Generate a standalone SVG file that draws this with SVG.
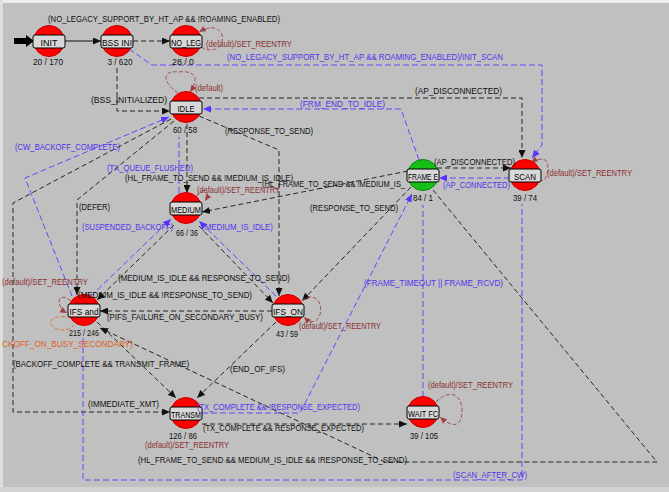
<svg xmlns="http://www.w3.org/2000/svg" width="669" height="492" viewBox="0 0 669 492">
<style>
text{font-family:"Liberation Sans",Arial,sans-serif;font-size:9.5px}
.k{fill:none;stroke:#262626;stroke-width:1;stroke-dasharray:5 3}
.ks{fill:none;stroke:#111;stroke-width:1}
.b{fill:none;stroke:#6a44ff;stroke-width:1;stroke-dasharray:6 3}
.m{fill:none;stroke:#a05050;stroke-width:1;stroke-dasharray:4 2}
.o{fill:none;stroke:#e07040;stroke-width:1;stroke-dasharray:4 2}
.tk{fill:#111}
.tb{fill:#5533ee}
.tm{fill:#8b3030}
.to{fill:#e06020}
.cnt{fill:#111;text-anchor:middle}
.red{fill:#ff0000;stroke:#c80000;stroke-width:1}
.grn{fill:#16c016;stroke:#0a8a0a;stroke-width:1}
.box{fill:#d8d8d8;stroke:#000;stroke-width:1}
.nl{fill:#000;text-anchor:middle}
</style>
<defs>
<marker id="ak" viewBox="0 0 8 7" refX="8" refY="3.5" markerWidth="8" markerHeight="7" markerUnits="userSpaceOnUse" orient="auto"><path d="M0,0L8,3.5L0,7z" fill="#111"/></marker>
<marker id="ab" viewBox="0 0 8 7" refX="8" refY="3.5" markerWidth="8" markerHeight="7" markerUnits="userSpaceOnUse" orient="auto"><path d="M0,0L8,3.5L0,7z" fill="#5a32ff"/></marker>
<marker id="am" viewBox="0 0 8 7" refX="8" refY="3.5" markerWidth="7" markerHeight="6" markerUnits="userSpaceOnUse" orient="auto"><path d="M0,0L8,3.5L0,7z" fill="#a04040"/></marker>
</defs>
<rect x="0" y="0" width="669" height="492" fill="#c0c0c0"/>
<rect x="0" y="0" width="669" height="3" fill="#ececec"/>
<rect x="0" y="0" width="3" height="492" fill="#dedede"/>
<rect x="0" y="487" width="669" height="5" fill="#d2d2d2"/>

<g id="connectors">
<polygon points="14,38 26,38 26,35 34,41 26,47 26,44 14,44" fill="#000"/>
<path class="ks" d="M65,41 L101,41" marker-end="url(#ak)"/>
<path class="k" d="M133,41 L170,41" marker-end="url(#ak)"/>
<path class="m" d="M201,47 C215,55 225,45 222,35 C218,25 208,27 199,32" marker-end="url(#am)"/>
<path class="b" d="M129,49 L152,65 L542,65 L542,145 L532,158" marker-end="url(#ab)"/>
<path class="k" d="M117,68 L117,111 L170,111" marker-end="url(#ak)"/>
<path class="m" d="M178,93 C160,80 164,70 178,72 C195,70 200,78 190,92" marker-end="url(#am)"/>
<path class="k" d="M199,98 L522,98 L522,158" marker-end="url(#ak)"/>
<path class="b" d="M419,160 L401,109 L203,109" marker-end="url(#ab)"/>
<path class="k" d="M199,116 L279,150 L279,296" marker-end="url(#ak)"/>
<path class="k" d="M187,124 L187,193" marker-end="url(#ak)"/>
<path class="b" d="M179,193 L179,137"/>
<path class="b" d="M72,296 L25,178 L169,117" marker-end="url(#ab)"/>
<path class="k" d="M171,119 L13,203 L13,412 L170,412" marker-end="url(#ak)"/>
<path class="k" d="M174,121 L77,200 L77,295" marker-end="url(#ak)"/>
<path class="m" d="M197,196 C203,186 212,190 205,201" marker-end="url(#am)"/>
<path class="k" d="M408,171 L202,212" marker-end="url(#ak)"/>
<path class="k" d="M411,187 L302,301" marker-end="url(#ak)"/>
<path class="k" d="M437,168 L511,168" marker-end="url(#ak)"/>
<path class="b" d="M510,178 L439,178" marker-end="url(#ab)"/>
<path class="m" d="M539,181 C549,183 550,162 545,160 C540,158 535,160 531,163" marker-end="url(#am)"/>
<path class="b" d="M276,296 L199,221" marker-end="url(#ab)"/>
<path class="k" d="M199,226 L273,303" marker-end="url(#ak)"/>
<path class="b" d="M91,296 L171,219" marker-end="url(#ab)"/>
<path class="k" d="M174,225 L97,300" marker-end="url(#ak)"/>
<path class="k" d="M272,311 L100,311" marker-end="url(#ak)"/>
<path class="m" d="M71,301 C58,290 54,306 67,313" marker-end="url(#am)"/>
<path class="o" d="M71,318 C55,313 44,322 55,328 C62,332 70,330 74,325"/>
<path class="m" d="M302,301 C314,290 325,304 319,317 C315,324 309,322 304,317" marker-end="url(#am)"/>
<path class="k" d="M97,322 L176,398" marker-end="url(#ak)"/>
<path class="k" d="M276,322 L197,398" marker-end="url(#ak)"/>
<path class="b" d="M202,413 L300,413 L412,194" marker-end="url(#ab)"/>
<path class="k" d="M202,424 L407,424" marker-end="url(#ak)"/>
<path class="m" d="M436,402 C450,388 462,395 462,410 C462,425 455,430 440,417" marker-end="url(#am)"/>
<path class="k" d="M433,190 L657,462 L385,462 L100,328" marker-end="url(#ak)"/>
<path class="b" d="M83,338 L83,480 L522,480 L522,204"/>
<path class="b" d="M423,397 L423,205"/>
</g>

<g id="n-init"><circle class="red" cx="49" cy="41" r="15.5"/><rect class="box" x="33" y="35" width="32" height="13" rx="2"/><text class="nl" x="49" y="45.5" textLength="17" lengthAdjust="spacingAndGlyphs">INIT</text><text class="cnt" x="48" y="65" textLength="30" lengthAdjust="spacingAndGlyphs">20 / 170</text></g>
<g id="n-bssini"><circle class="red" cx="117" cy="41" r="15.5"/><rect class="box" x="101" y="35" width="32" height="13" rx="2"/><text class="nl" x="117" y="45.5" textLength="30" lengthAdjust="spacingAndGlyphs">BSS INI</text><text class="cnt" x="120" y="65" textLength="25" lengthAdjust="spacingAndGlyphs">3 / 620</text></g>
<g id="n-noleg"><circle class="red" cx="186" cy="41" r="15.5"/><rect class="box" x="170" y="35" width="32" height="13" rx="2"/><text class="nl" x="186" y="45.5" textLength="30" lengthAdjust="spacingAndGlyphs">NO_LEG</text><text class="cnt" x="183" y="65" textLength="22" lengthAdjust="spacingAndGlyphs">28 / 0</text></g>
<g id="n-idle"><circle class="red" cx="186" cy="107" r="15.5"/><rect class="box" x="170" y="101" width="32" height="13" rx="2"/><text class="nl" x="186" y="111.5" textLength="17" lengthAdjust="spacingAndGlyphs">IDLE</text><text class="cnt" x="185" y="133" textLength="24" lengthAdjust="spacingAndGlyphs">60 / 58</text></g>
<g id="n-medium"><circle class="red" cx="186" cy="208" r="15.5"/><rect class="box" x="170" y="202" width="32" height="13" rx="2"/><text class="nl" x="186" y="212.5" textLength="30" lengthAdjust="spacingAndGlyphs">MEDIUM</text><text class="cnt" x="187" y="236" textLength="22" lengthAdjust="spacingAndGlyphs">66 / 36</text></g>
<g id="n-frame"><circle class="grn" cx="423" cy="175" r="15.5"/><rect class="box" x="407" y="169" width="32" height="13" rx="2"/><text class="nl" x="423" y="179.5" textLength="30" lengthAdjust="spacingAndGlyphs">FRAME E</text><text class="cnt" x="423" y="201" textLength="20" lengthAdjust="spacingAndGlyphs">84 / 1</text></g>
<g id="n-scan"><circle class="red" cx="525" cy="175" r="15.5"/><rect class="box" x="509" y="169" width="32" height="13" rx="2"/><text class="nl" x="525" y="179.5" textLength="22" lengthAdjust="spacingAndGlyphs">SCAN</text><text class="cnt" x="525" y="201" textLength="24" lengthAdjust="spacingAndGlyphs">39 / 74</text></g>
<g id="n-ifsand"><circle class="red" cx="84" cy="310" r="15.5"/><rect class="box" x="68" y="304" width="32" height="13" rx="2"/><text class="nl" x="84" y="314.5" textLength="29" lengthAdjust="spacingAndGlyphs">IFS and</text><text class="cnt" x="84" y="336" textLength="30" lengthAdjust="spacingAndGlyphs">215 / 246</text></g>
<g id="n-ifson"><circle class="red" cx="288" cy="310" r="15.5"/><rect class="box" x="272" y="304" width="32" height="13" rx="2"/><text class="nl" x="288" y="314.5" textLength="30" lengthAdjust="spacingAndGlyphs">IFS_ON</text><text class="cnt" x="287" y="337" textLength="22" lengthAdjust="spacingAndGlyphs">43 / 59</text></g>
<g id="n-transm"><circle class="red" cx="186" cy="413" r="15.5"/><rect class="box" x="170" y="407" width="32" height="13" rx="2"/><text class="nl" x="186" y="417.5" textLength="30" lengthAdjust="spacingAndGlyphs">TRANSM</text><text class="cnt" x="183" y="439" textLength="28" lengthAdjust="spacingAndGlyphs">126 / 86</text></g>
<g id="n-waitfc"><circle class="red" cx="423" cy="412" r="15.5"/><rect class="box" x="407" y="406" width="32" height="13" rx="2"/><text class="nl" x="423" y="416.5" textLength="30" lengthAdjust="spacingAndGlyphs">WAIT FC</text><text class="cnt" x="424" y="439" textLength="28" lengthAdjust="spacingAndGlyphs">39 / 105</text></g>

<g id="labels">
<text class="tk" x="48" y="22" textLength="232" lengthAdjust="spacingAndGlyphs">(NO_LEGACY_SUPPORT_BY_HT_AP &amp;&amp; !ROAMING_ENABLED)</text>
<text class="tm" x="206" y="47" textLength="86" lengthAdjust="spacingAndGlyphs">(default)/SET_REENTRY</text>
<text class="tb" x="227" y="60" textLength="276" lengthAdjust="spacingAndGlyphs">(NO_LEGACY_SUPPORT_BY_HT_AP &amp;&amp; ROAMING_ENABLED)/INIT_SCAN</text>
<text class="tm" x="195" y="91" textLength="28" lengthAdjust="spacingAndGlyphs">(default)</text>
<text class="tk" x="91" y="103" textLength="76" lengthAdjust="spacingAndGlyphs">(BSS_INITIALIZED)</text>
<text class="tk" x="415" y="94" textLength="87" lengthAdjust="spacingAndGlyphs">(AP_DISCONNECTED)</text>
<text class="tb" x="300" y="107" textLength="85" lengthAdjust="spacingAndGlyphs">(FRM_END_TO_IDLE)</text>
<text class="tk" x="225" y="134" textLength="88" lengthAdjust="spacingAndGlyphs">(RESPONSE_TO_SEND)</text>
<text class="tb" x="15" y="150" textLength="105" lengthAdjust="spacingAndGlyphs">(CW_BACKOFF_COMPLETE)</text>
<text class="tb" x="107" y="171" textLength="86" lengthAdjust="spacingAndGlyphs">(TX_QUEUE_FLUSHED)</text>
<text class="tk" x="125" y="181" textLength="168" lengthAdjust="spacingAndGlyphs">(HL_FRAME_TO_SEND &amp;&amp; !MEDIUM_IS_IDLE)</text>
<text class="tk" x="262" y="187" textLength="143" lengthAdjust="spacingAndGlyphs">(HL_FRAME_TO_SEND &amp;&amp; !MEDIUM_IS_</text>
<text class="tm" x="197" y="193" textLength="83" lengthAdjust="spacingAndGlyphs">(default)/SET_REENTRY</text>
<text class="tk" x="79" y="210" textLength="31" lengthAdjust="spacingAndGlyphs">(DEFER)</text>
<text class="tk" x="310" y="211" textLength="88" lengthAdjust="spacingAndGlyphs">(RESPONSE_TO_SEND)</text>
<text class="tb" x="82" y="230" textLength="91" lengthAdjust="spacingAndGlyphs">(SUSPENDED_BACKOFF)</text>
<text class="tb" x="202" y="230" textLength="71" lengthAdjust="spacingAndGlyphs">(MEDIUM_IS_IDLE)</text>
<text class="tk" x="434" y="165" textLength="81" lengthAdjust="spacingAndGlyphs">(AP_DISCONNECTED)</text>
<text class="tb" x="443" y="188" textLength="67" lengthAdjust="spacingAndGlyphs">(AP_CONNECTED)</text>
<text class="tm" x="547" y="176" textLength="85" lengthAdjust="spacingAndGlyphs">(default)/SET_REENTRY</text>
<text class="tm" x="2" y="285" textLength="86" lengthAdjust="spacingAndGlyphs">(default)/SET_REENTRY</text>
<text class="tk" x="118" y="281" textLength="172" lengthAdjust="spacingAndGlyphs">(MEDIUM_IS_IDLE &amp;&amp; RESPONSE_TO_SEND)</text>
<text class="tk" x="78" y="298" textLength="174" lengthAdjust="spacingAndGlyphs">(MEDIUM_IS_IDLE &amp;&amp; !RESPONSE_TO_SEND)</text>
<text class="tk" x="107" y="320" textLength="156" lengthAdjust="spacingAndGlyphs">(PIFS_FAILURE_ON_SECONDARY_BUSY)</text>
<text class="tm" x="299" y="329" textLength="82" lengthAdjust="spacingAndGlyphs">(default)/SET_REENTRY</text>
<text class="to" x="2" y="347" textLength="131" lengthAdjust="spacingAndGlyphs">CKOFF_ON_BUSY_SECONDARY)</text>
<text class="tk" x="13" y="367" textLength="176" lengthAdjust="spacingAndGlyphs">(BACKOFF_COMPLETE &amp;&amp; TRANSMIT_FRAME)</text>
<text class="tk" x="230" y="372" textLength="55" lengthAdjust="spacingAndGlyphs">(END_OF_IFS)</text>
<text class="tb" x="364" y="286" textLength="139" lengthAdjust="spacingAndGlyphs">(FRAME_TIMEOUT || FRAME_RCVD)</text>
<text class="tk" x="88" y="407" textLength="71" lengthAdjust="spacingAndGlyphs">(IMMEDIATE_XMT)</text>
<text class="tb" x="197" y="410" textLength="163" lengthAdjust="spacingAndGlyphs">(TX_COMPLETE &amp;&amp; !RESPONSE_EXPECTED)</text>
<text class="tk" x="203" y="431" textLength="161" lengthAdjust="spacingAndGlyphs">(TX_COMPLETE &amp;&amp; RESPONSE_EXPECTED)</text>
<text class="tm" x="145" y="448" textLength="84" lengthAdjust="spacingAndGlyphs">(default)/SET_REENTRY</text>
<text class="tk" x="138" y="463" textLength="269" lengthAdjust="spacingAndGlyphs">(HL_FRAME_TO_SEND &amp;&amp; MEDIUM_IS_IDLE &amp;&amp; !RESPONSE_TO_SEND)</text>
<text class="tm" x="428" y="388" textLength="85" lengthAdjust="spacingAndGlyphs">(default)/SET_REENTRY</text>
<text class="tb" x="453" y="478" textLength="74" lengthAdjust="spacingAndGlyphs">(SCAN_AFTER_CW)</text>
</g>
</svg>
